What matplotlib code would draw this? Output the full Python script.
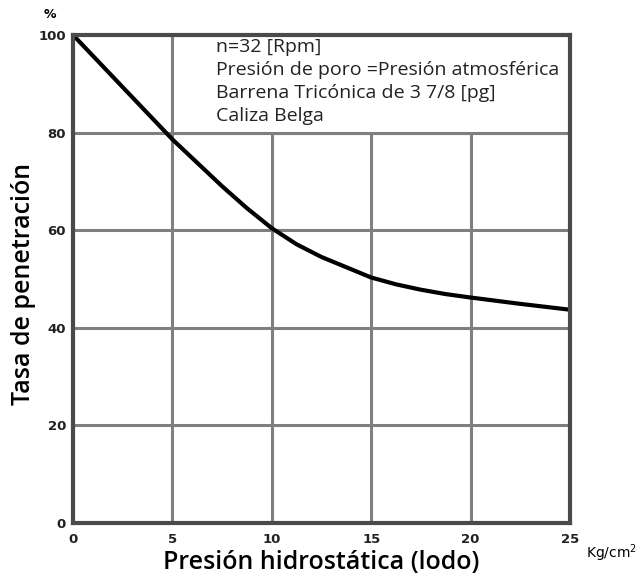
import matplotlib.pyplot as plt
from matplotlib.patches import Rectangle

# curva
presion = [0, 2.5, 5, 7.5, 8.75, 10, 11.25, 12.5, 13.75, 15,
           16.25, 17.5, 18.75, 20, 22.5, 25]
tasa = [100, 89.3, 78.6, 69.0, 64.5, 60.4, 57.1, 54.5, 52.4, 50.3,
        48.9, 47.8, 46.9, 46.2, 44.9, 43.7]

x_ticks = [0, 5, 10, 15, 20, 25]
y_ticks = [0, 20, 40, 60, 80, 100]

notas = [
    "n=32 [Rpm]",
    "Presión de poro =Presión atmosférica",
    "Barrena Tricónica de 3 7/8 [pg]",
    "Caliza Belga",
]

GRID = "#7f7f7f"
SPINE = "#4a4a4a"

fig = plt.figure(figsize=(6.44, 5.8), dpi=100)
ax = fig.add_axes([0.1134, 0.0983, 0.7717, 0.8414])

ax.set_xlim(0, 25)
ax.set_ylim(0, 100)

# cuadricula
for x in x_ticks[1:-1]:
    ax.axvline(x, color=GRID, lw=2.2, zorder=1)
for y in y_ticks[1:-1]:
    ax.axhline(y, color=GRID, lw=2.2, zorder=1)

# recuadro de notas (tapa la cuadricula)
ax.add_patch(Rectangle((5, 80), 20, 20, facecolor="white",
                       edgecolor=GRID, lw=2.2, zorder=2))
for i, t in enumerate(notas):
    ax.text(7.2, 97.6 - i * 4.72, t, fontsize=14, family="Open Sans",
            va="center", ha="left", color="#222222", zorder=3)

ax.plot(presion, tasa, color="black", lw=3, zorder=4,
        solid_capstyle="round", solid_joinstyle="round")

for s in ax.spines.values():
    s.set_color(SPINE)
    s.set_linewidth(3)
    s.set_zorder(5)

ax.set_xticks(x_ticks)
ax.set_yticks(y_ticks)
ax.tick_params(length=0, labelsize=9.5, colors="#222222")
ax.tick_params(axis="x", pad=7)
ax.tick_params(axis="y", pad=5)
for lab in ax.get_xticklabels() + ax.get_yticklabels():
    lab.set_fontweight("bold")
    lab.set_family("Liberation Sans Narrow")

ax.set_xlabel("Presión hidrostática (lodo)", fontsize=18, family="Open Sans",
              fontweight="semibold", labelpad=3)
ax.set_ylabel("Tasa de penetración", fontsize=18, family="Open Sans",
              fontweight="semibold")
ax.yaxis.set_label_coords(-0.074, 0.49)

fig.text(50 / 644, 1 - 15 / 580, "%", fontsize=9, fontweight="bold",
         ha="center", va="center", family="Liberation Sans Narrow")
fig.text(612 / 644, 1 - 553 / 580, "Kg/cm$^2$", fontsize=10,
         ha="center", va="center", family="Liberation Sans Narrow")

plt.savefig("out.png", dpi=100)
plt.close()
